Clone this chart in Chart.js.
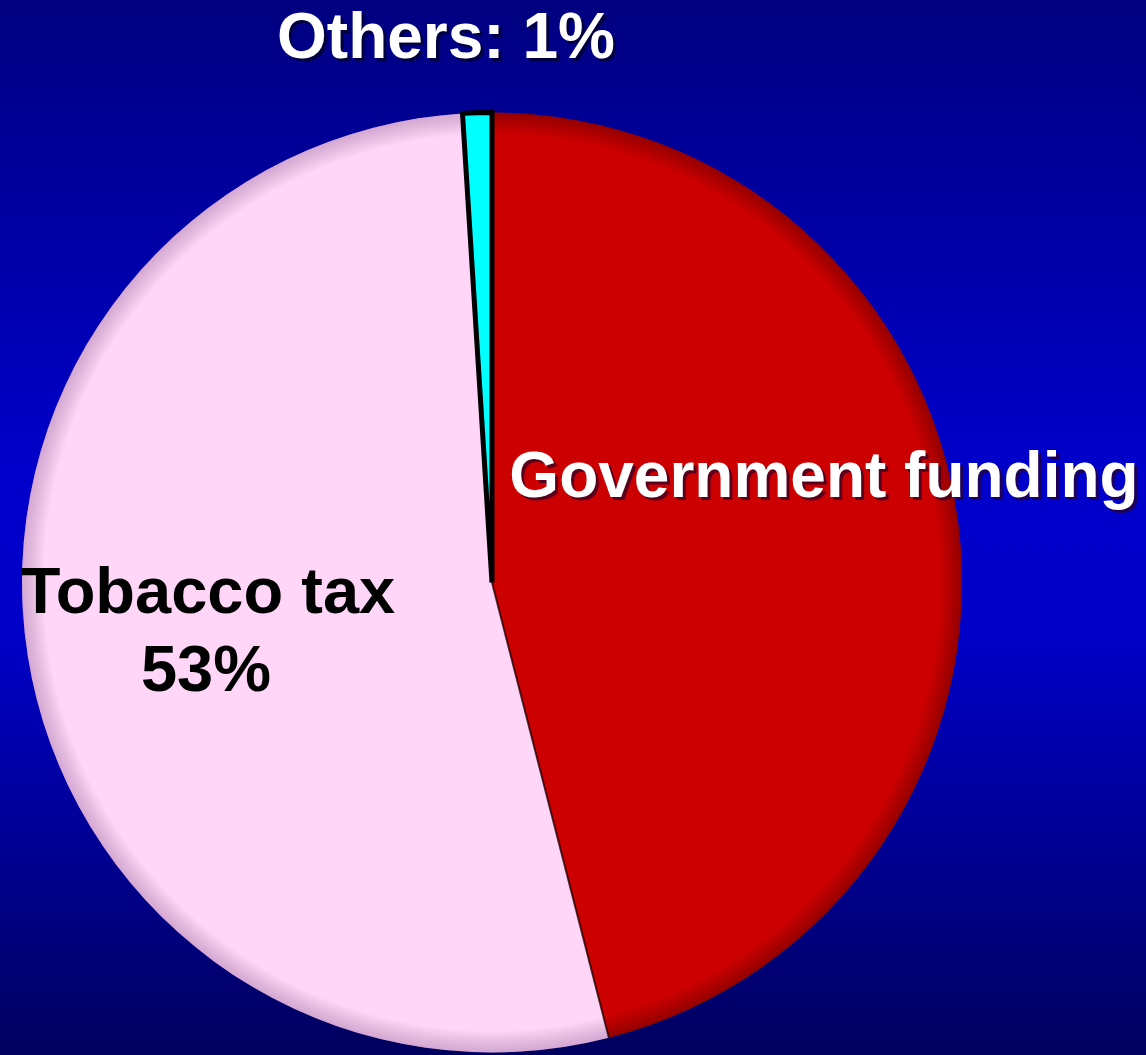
<!DOCTYPE html>
<html><head><meta charset="utf-8">
<script src="https://cdn.jsdelivr.net/npm/chart.js@4/dist/chart.umd.min.js"></script>
<style>html,body{margin:0;padding:0;background:#0000a0;}#wrap{width:1146px;height:1055px;position:relative;}</style>
</head><body><div id="wrap"><canvas id="c" width="1146" height="1055"></canvas></div>
<script>
const categories = ["Government funding", "Tobacco tax", "Others"];
const shares = [46, 53, 1];
const sliceColors = ["#cc0000", "#ffd5f8", "#00ffff"];

const bgPlugin = {
  id: 'bg',
  beforeDraw(chart) {
    const ctx = chart.ctx, w = chart.width, h = chart.height;
    const g = ctx.createLinearGradient(0, 0, 0, h);
    g.addColorStop(0, '#000080');
    g.addColorStop(0.45, '#0000cc');
    g.addColorStop(0.6, '#0000c8');
    g.addColorStop(1, '#00005e');
    ctx.save(); ctx.fillStyle = g; ctx.fillRect(0, 0, w, h); ctx.restore();
  }
};

const labelPlugin = {
  id: 'labels',
  afterDatasetsDraw(chart) {
    const ctx = chart.ctx;
    const meta = chart.getDatasetMeta(0);
    const arc = meta.data[0];
    const cx = arc.x, cy = arc.y, r = arc.outerRadius;
    ctx.save();
    // bevel shading on the rim
    meta.data.forEach((a, i) => {
      if (i === 2) return;
      ctx.save();
      ctx.beginPath();
      ctx.moveTo(cx, cy);
      ctx.arc(cx, cy, r, a.startAngle, a.endAngle);
      ctx.closePath();
      ctx.clip();
      const rg = ctx.createRadialGradient(cx, cy, r - 22, cx, cy, r);
      rg.addColorStop(0, 'rgba(0,0,0,0)');
      rg.addColorStop(1, i === 1 ? 'rgba(60,0,80,0.22)' : 'rgba(0,0,0,0.28)');
      ctx.fillStyle = rg;
      ctx.fillRect(cx - r, cy - r, 2 * r, 2 * r);
      ctx.restore();
    });
    // dark seam between government and tobacco slices
    const b = meta.data[0].endAngle;
    ctx.strokeStyle = 'rgba(40,0,0,0.8)';
    ctx.lineWidth = 2;
    ctx.beginPath();
    ctx.moveTo(cx, cy);
    ctx.lineTo(cx + r * Math.cos(b), cy + r * Math.sin(b));
    ctx.stroke();

    ctx.textAlign = 'center';
    ctx.textBaseline = 'alphabetic';
    // Others
    ctx.font = 'bold 64px "Liberation Sans", Arial, sans-serif';
    ctx.fillStyle = '#000040';
    ctx.fillText(categories[2] + ': ' + shares[2] + '%', 449, 61);
    ctx.fillStyle = '#ffffff';
    ctx.fillText(categories[2] + ': ' + shares[2] + '%', 446, 58);
    // Government funding (no percent shown in original)
    ctx.font = 'bold 64px "Liberation Sans", Arial, sans-serif';
    ctx.fillStyle = 'rgba(40,0,40,0.7)';
    ctx.fillText(categories[0], 827, 500);
    ctx.fillStyle = '#ffffff';
    ctx.fillText(categories[0], 824, 497);
    // Tobacco tax
    ctx.fillStyle = '#000000';
    ctx.font = 'bold 65px "Liberation Sans", Arial, sans-serif';
    ctx.fillText(categories[1], 208, 613);
    ctx.fillText(shares[1] + '%', 206, 691);
    ctx.restore();
  }
};

new Chart(document.getElementById('c'), {
  type: 'pie',
  data: {
    labels: categories,
    datasets: [{
      data: shares,
      backgroundColor: sliceColors,
      borderColor: ['#cc0000', '#ffd5f8', '#000000'],
      borderWidth: [0, 0, 5],
      borderJoinStyle: 'miter'
    }]
  },
  options: {
    responsive: false,
    animation: false,
    rotation: 0,
    layout: { padding: { left: 19, right: 181, top: 110, bottom: 0 } },
    plugins: { legend: { display: false }, tooltip: { enabled: false } }
  },
  plugins: [bgPlugin, labelPlugin]
});
</script>
</body></html>
